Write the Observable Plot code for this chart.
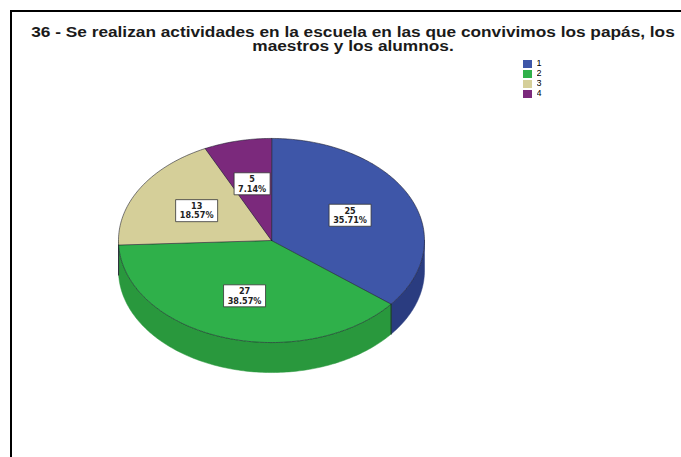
<!DOCTYPE html>
<html><head><meta charset="utf-8">
<script src="https://cdn.jsdelivr.net/npm/d3@7"></script>
<script src="https://cdn.jsdelivr.net/npm/@observablehq/plot@0.6"></script>
<style>
html,body{margin:0;padding:0;background:#fff;overflow:hidden;}
#wrap{position:relative;width:681px;height:457px;font-family:"Liberation Sans",Arial,sans-serif;}
#frame{position:absolute;left:10px;top:10px;width:700px;height:500px;border-left:2px solid #000;border-top:2px solid #000;box-sizing:border-box;}
#title{position:absolute;left:353px;top:25px;white-space:nowrap;text-align:center;font-weight:bold;font-size:14.5px;line-height:14px;color:#1a1a1a;transform:translateX(-50%) scaleX(1.19);}
#chart{position:absolute;left:0;top:0;}
#legend{position:absolute;left:523px;top:59px;}
</style></head>
<body><div id="wrap"><div id="chart"></div><div id="frame"></div>
<div id="title">36 - Se realizan actividades en la escuela en las que convivimos los papás, los<br>maestros y los alumnos.</div>
<div id="legend"></div></div>
<script>
const categories = ["1","2","3","4"];
const counts = [25, 27, 13, 5];
const topColors = ["#3E56A8","#2FB04A","#D5CF99","#7B297C"];
const sideColors = ["#2A3C80","#29983D","#B3AD7C","#5E1F5F"];

const tilt = 0.667, depth = 0.196;
const total = d3.sum(counts);
const arcs = d3.pie().sort(null).value(d => d.v)(categories.map((c,i)=>({c, v: counts[i], i})));

function pt(a, yoff=0){ return {x: Math.sin(a), y: Math.cos(a)*tilt + yoff}; }
function arcPts(a0, a1, yoff=0){
  const n = Math.max(2, Math.ceil((a1-a0)/(Math.PI/180)));
  return d3.range(n+1).map(k => pt(a0 + (a1-a0)*k/n, yoff));
}

const topPolys = arcs.map(a => [{x:0,y:0}, ...arcPts(a.startAngle, a.endAngle)].map(p => ({...p, c: a.data.c})));
const sideMarks = [];
const edgeLines = [];
arcs.forEach(a => {
  const lo = Math.max(a.startAngle, Math.PI/2), hi = Math.min(a.endAngle, 3*Math.PI/2);
  if (hi > lo) {
    const poly = [...arcPts(lo, hi), ...arcPts(lo, hi, -depth).reverse()];
    sideMarks.push(Plot.line(poly, {x:"x", y:"y", fill: sideColors[a.data.i], stroke: sideColors[a.data.i], strokeWidth: 0.5, curve: "linear-closed"}));
  }
  const e = a.endAngle;
  if (e > Math.PI/2 && e < 3*Math.PI/2) {
    edgeLines.push([pt(e), pt(e, -depth)]);
  }
});

const labels = arcs.map(a => {
  const m = (a.startAngle + a.endAngle)/2;
  const r = 0.57;
  return {x: r*Math.sin(m), y: r*Math.cos(m)*tilt, c: a.data.c,
    text: a.data.v + "\n" + (a.data.v/total*100).toFixed(2) + "%", w: a.data.v < 10 ? 36 : 42};
});
const boxSym = w => ({draw(ctx){ ctx.rect(-w/2, -11, w, 22); }});

const chart = Plot.plot({
  width: 681, height: 457, margin: 0,
  x: {domain: [-271/153, 410/153], axis: null},
  y: {domain: [-217/153, 240/153], axis: null},
  color: {domain: categories, range: topColors},
  marks: [
    ...sideMarks,
    ...edgeLines.map(l => Plot.line(l, {x:"x", y:"y", stroke:"#1b1f33", strokeWidth: 1})),
    Plot.line(topPolys.flat(), {x:"x", y:"y", z:"c", fill:"c", stroke:"#1a1a2a", strokeWidth: 0.7, strokeOpacity: 0.8, curve:"linear-closed"}),
    ...labels.map(l => Plot.dot([l], {x:"x", y:"y", symbol: boxSym(l.w), fill:"#fff", stroke:"#333", strokeWidth: 0.8})),
    Plot.text(labels, {x:"x", y:"y", text:"text", fontSize: 9, fontWeight:"bold", lineHeight: 1.05, fill:"#222", fontFamily:"DejaVu Sans Condensed, Liberation Sans, sans-serif"})
  ]
});
document.getElementById("chart").appendChild(chart);

const leg = Plot.legend({color: {domain: categories, range: topColors}, columns: 1, swatchSize: 9, swatchWidth: 9, swatchHeight: 8, marginLeft: 0});
leg.style.fontSize = "9px";
leg.style.lineHeight = "9px";
leg.style.fontFamily = "Liberation Sans, Arial, sans-serif";
document.getElementById("legend").appendChild(leg);
</script>
</body></html>
